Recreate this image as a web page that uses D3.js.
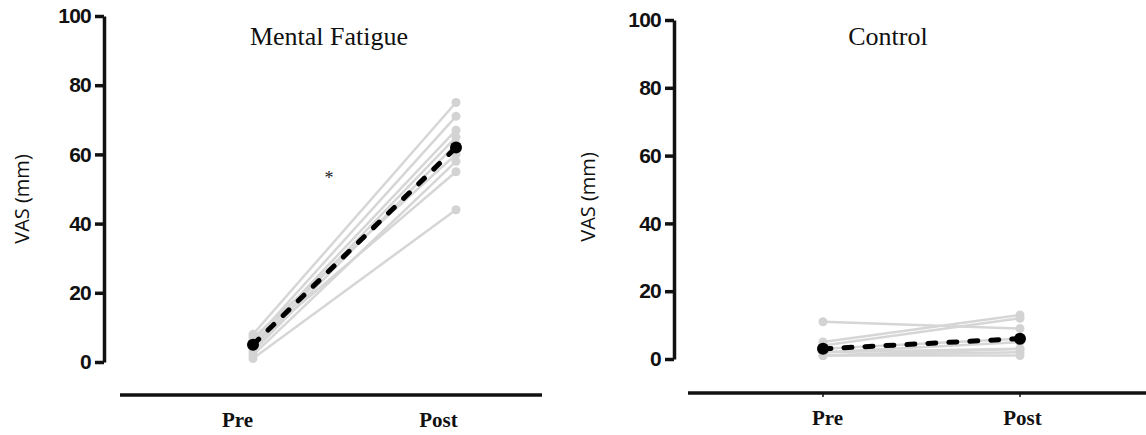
<!DOCTYPE html>
<html>
<head>
<meta charset="utf-8">
<script src="https://cdn.jsdelivr.net/npm/d3@7"></script>
<style>
  body { margin: 0; background: #fff; }
  svg { display: block; }
</style>
</head>
<body>
<div class="canvas"></div>
<script>
// data
const phases = ['Pre', 'Post'];
const yTicks = [0, 20, 40, 60, 80, 100];

const fatiguePre  = [8, 6, 5, 4, 3, 7, 2, 5, 1];
const fatiguePost = [75, 71, 67, 65, 63, 60, 58, 55, 44];
const fatigueMean = [5, 62];

const controlPre  = [11, 5, 4, 3, 2, 2, 1, 1, 1];
const controlPost = [9, 13, 12, 6, 3, 5, 2, 1, 3];
const controlMean = [3, 6];

const svg = d3.select('.canvas')
  .append('svg')
  .attr('width', 1146)
  .attr('height', 435);

const drawPanel = (p) => {
  const g = svg.append('g');

  const y = d3.scaleLinear()
    .domain([0, 100])
    .range([p.y0, p.y100]);
  const x = d3.scalePoint()
    .domain(phases)
    .range(p.pointRange);
  const xLab = d3.scalePoint()
    .domain(phases)
    .range(p.labelRange);

  // y axis
  const yAxis = d3.axisLeft(y)
    .tickValues(yTicks)
    .tickSize(9)
    .tickSizeOuter(0)
    .tickPadding(4);
  const yAxisGroup = g.append('g')
    .attr('transform', `translate(${p.axisX},0)`)
    .call(yAxis);
  yAxisGroup.select('.domain')
    .attr('stroke', '#111')
    .attr('stroke-width', 3.5);
  yAxisGroup.selectAll('.tick line')
    .attr('stroke', '#111')
    .attr('stroke-width', 3.5);
  yAxisGroup.selectAll('.tick text')
    .attr('fill', '#111')
    .attr('font-family', '"Liberation Sans", Arial, sans-serif')
    .attr('font-weight', 'bold')
    .attr('font-size', '21px')
    .attr('letter-spacing', '-0.8px');

  g.append('text')
    .attr('transform', `translate(${p.titleX},${p.titleY}) rotate(-90)`)
    .attr('text-anchor', 'middle')
    .attr('font-family', '"Open Sans", "DejaVu Sans", sans-serif')
    .attr('font-size', '20px')
    .attr('fill', '#111')
    .text('VAS (mm)');

  // bottom rule with phase labels
  const xAxis = d3.axisBottom(xLab)
    .tickSize(0)
    .tickPadding(17);
  const xAxisGroup = g.append('g')
    .attr('transform', `translate(0,${p.baseY})`)
    .call(xAxis);
  xAxisGroup.select('.domain')
    .attr('d', `M${p.lineX[0]},0H${p.lineX[1]}`)
    .attr('stroke', '#111')
    .attr('stroke-width', 3.5);
  xAxisGroup.selectAll('.tick text')
    .attr('fill', '#111')
    .attr('font-family', '"Liberation Serif", "Times New Roman", serif')
    .attr('font-weight', 'bold')
    .attr('font-size', '21px');
  if (p.smallTicks) {
    g.selectAll('.stub')
      .data(phases)
      .enter()
      .append('line')
      .attr('x1', d => x(d))
      .attr('x2', d => x(d))
      .attr('y1', p.baseY)
      .attr('y2', p.baseY + 4)
      .attr('stroke', '#111')
      .attr('stroke-width', 1.5);
  }

  // individual subjects
  const subjects = p.pre.map((v, i) => [v, p.post[i]]);
  const line = d3.line()
    .x((d, i) => x(phases[i]))
    .y(d => y(d));

  g.selectAll('.subject')
    .data(subjects)
    .enter()
    .append('path')
    .attr('d', line)
    .attr('fill', 'none')
    .attr('stroke', '#d6d6d6')
    .attr('stroke-width', 2.5);

  subjects.forEach(s => {
    g.selectAll(null)
      .data(s)
      .enter()
      .append('circle')
      .attr('cx', (d, i) => x(phases[i]))
      .attr('cy', d => y(d))
      .attr('r', 4.5)
      .attr('fill', '#d3d3d3');
  });

  // group mean
  g.append('path')
    .attr('d', line(p.mean))
    .attr('fill', 'none')
    .attr('stroke', '#000')
    .attr('stroke-width', 5)
    .attr('stroke-linecap', 'round')
    .attr('stroke-dasharray', '8,13');

  g.selectAll('.mean')
    .data(p.mean)
    .enter()
    .append('circle')
    .attr('cx', (d, i) => x(phases[i]))
    .attr('cy', d => y(d))
    .attr('r', 6)
    .attr('fill', '#000');

  g.append('text')
    .attr('x', p.headX)
    .attr('y', 45)
    .attr('text-anchor', 'middle')
    .attr('font-family', '"Liberation Serif", "Times New Roman", serif')
    .attr('font-size', '26px')
    .attr('fill', '#111')
    .text(p.head);

  return {g, x, y};
};

const left = drawPanel({
  head: 'Mental Fatigue', headX: 329,
  pre: fatiguePre, post: fatiguePost, mean: fatigueMean,
  axisX: 104, y0: 362, y100: 16,
  pointRange: [253, 456], labelRange: [237, 438],
  baseY: 395, lineX: [120, 542],
  titleX: 29, titleY: 199
});

// significance marker
left.g.append('text')
  .attr('x', 329)
  .attr('y', 184)
  .attr('text-anchor', 'middle')
  .attr('font-family', '"Liberation Serif", serif')
  .attr('font-size', '18px')
  .attr('fill', '#222')
  .text('*');

drawPanel({
  head: 'Control', headX: 888,
  pre: controlPre, post: controlPost, mean: controlMean,
  axisX: 674, y0: 359, y100: 20,
  pointRange: [823, 1020], labelRange: [827, 1022],
  baseY: 393, lineX: [688, 1146], smallTicks: true,
  titleX: 595, titleY: 197
});
</script>
</body>
</html>
